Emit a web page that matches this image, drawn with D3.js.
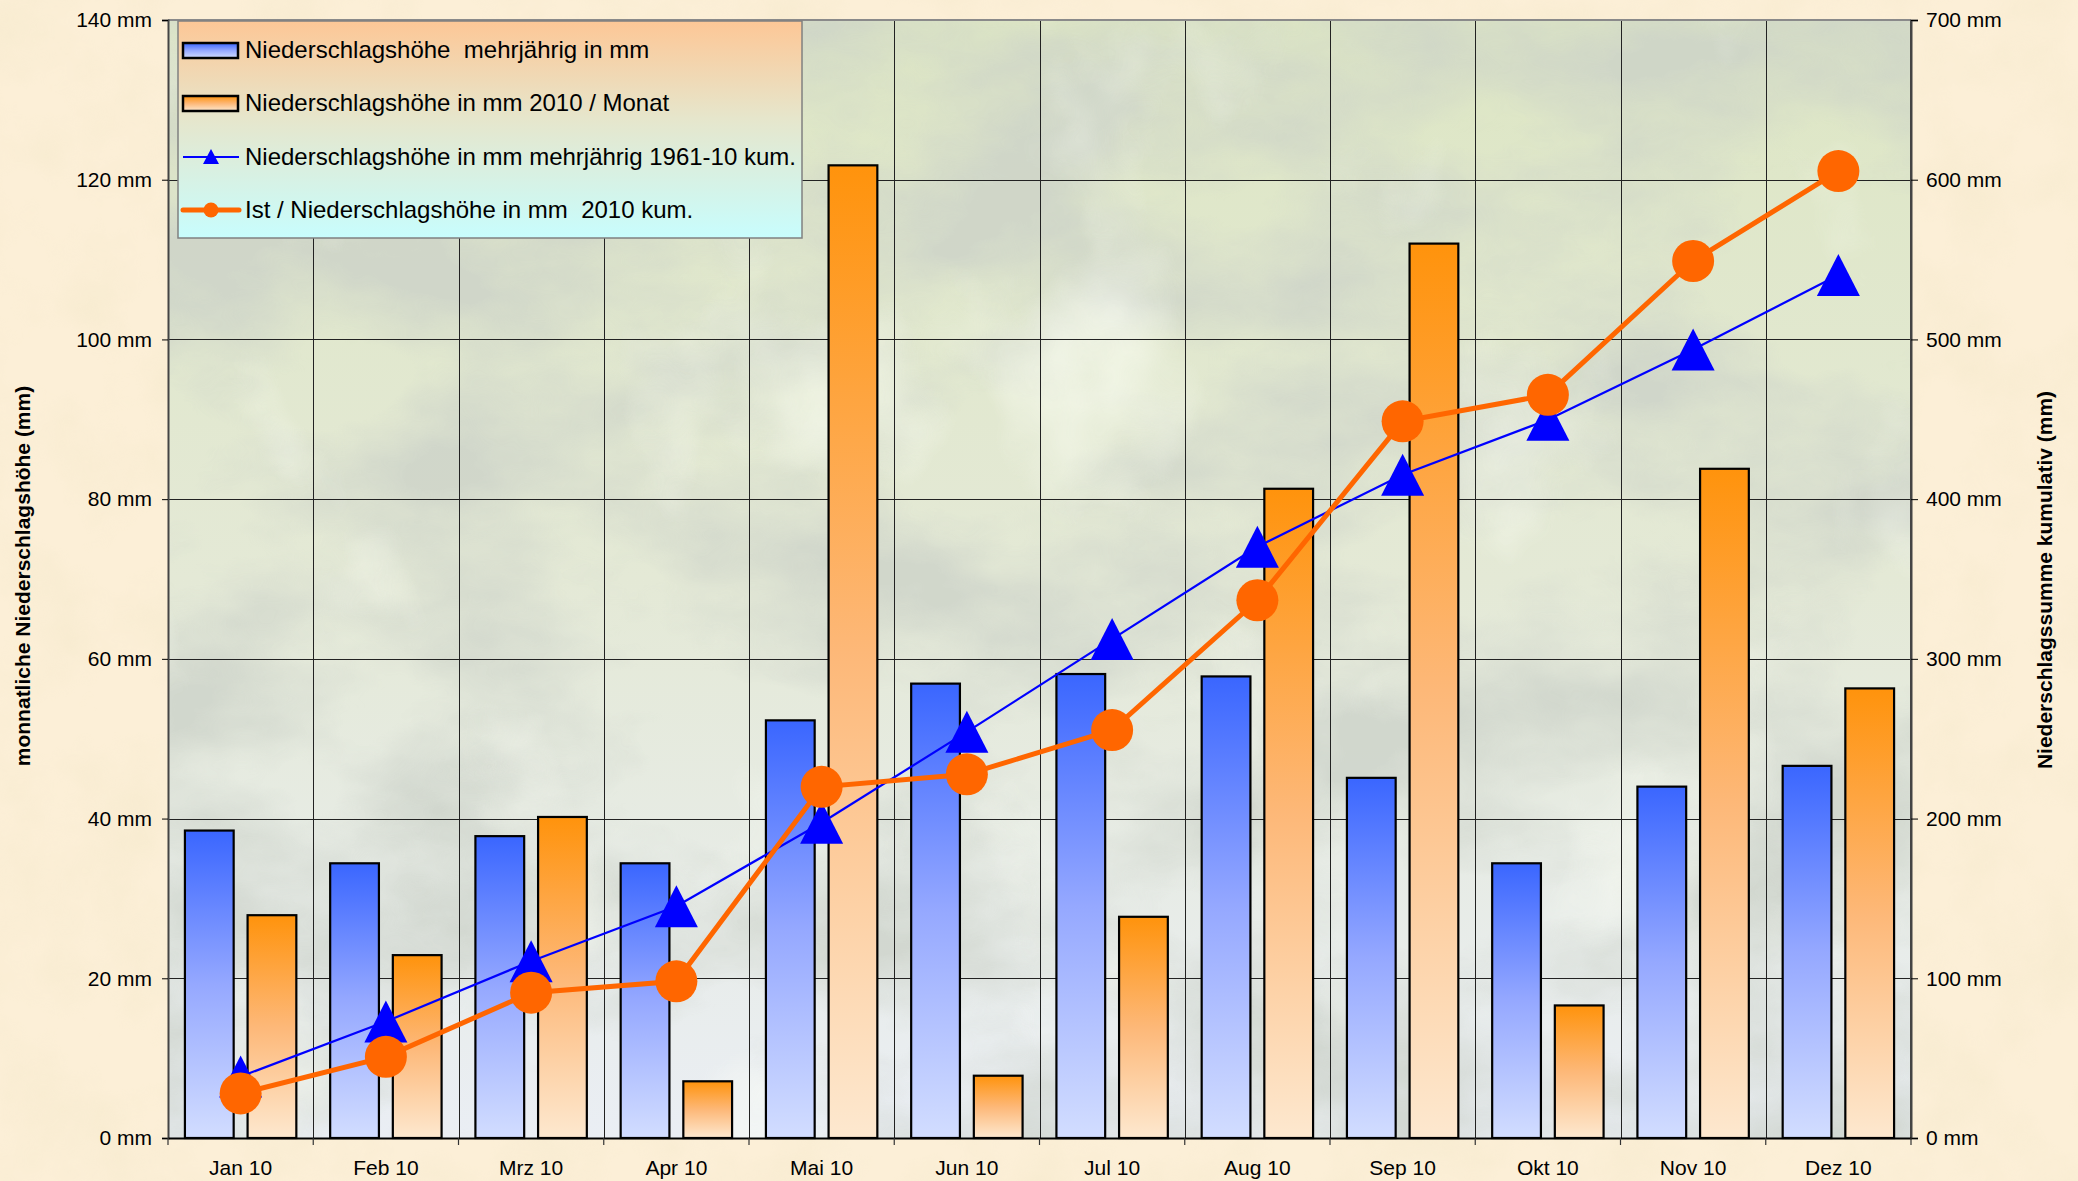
<!DOCTYPE html>
<html>
<head>
<meta charset="utf-8">
<script src="https://cdn.jsdelivr.net/npm/d3@7"></script>
<style>
  body { margin: 0; overflow: hidden; background: #fcefd7; }
  text { font-family: "Liberation Sans", Arial, sans-serif; fill: #000; }
</style>
</head>
<body>
<div id="chart"></div>
<script>
// monthly precipitation 2010 vs. long-term average, plus cumulative sums
var months = ["Jan 10", "Feb 10", "Mrz 10", "Apr 10", "Mai 10", "Jun 10",
              "Jul 10", "Aug 10", "Sep 10", "Okt 10", "Nov 10", "Dez 10"];

var normMonthly   = [38.5, 34.4, 37.8, 34.4, 52.3, 56.9, 58.1, 57.8, 45.1, 34.4, 44.0, 46.6];
var actualMonthly = [27.9, 22.9, 40.2, 7.1, 121.8, 7.8, 27.7, 81.3, 112.0, 16.6, 83.8, 56.3];

var normCum   = [38.5, 72.9, 110.7, 145.1, 197.4, 254.3, 312.4, 370.2, 415.3, 449.7, 493.7, 540.3];
var actualCum = [27.9, 50.8, 91.0, 98.1, 219.9, 227.7, 255.4, 336.7, 448.7, 465.3, 549.1, 605.4];

var leftTicks  = [0, 20, 40, 60, 80, 100, 120, 140];
var rightTicks = [0, 100, 200, 300, 400, 500, 600, 700];

var legendLabels = [
    "Niederschlagshöhe  mehrjährig in mm",
    "Niederschlagshöhe in mm 2010 / Monat",
    "Niederschlagshöhe in mm mehrjährig 1961-10 kum.",
    "Ist / Niederschlagshöhe in mm  2010 kum."
];

var W = 2078, H = 1181;
var plot = { left: 168, right: 1911, top: 20, bottom: 1138 };

var svg = d3.select("#chart").append("svg").
    attr("width", W).
    attr("height", H);

var defs = svg.append("defs");

function vGrad(id, stops) {
    var g = defs.append("linearGradient").
        attr("id", id).
        attr("x1", 0).attr("y1", 0).attr("x2", 0).attr("y2", 1);
    stops.forEach(function(s) {
        g.append("stop").attr("offset", s[0]).attr("stop-color", s[1]);
    });
}
vGrad("gBlue", [[0, "#3a66ff"], [0.5, "#95a8ff"], [1, "#d2ddff"]]);
vGrad("gOrange", [[0, "#ff930c"], [0.5, "#fdb878"], [1, "#fde8cf"]]);
vGrad("gLegend", [[0, "#fdc796"], [0.45, "#e6e6cc"], [1, "#c8fdfd"]]);
vGrad("gPlot", [[0, "#dde6c4"], [0.5, "#e4e9d6"], [1, "#eaeef4"]]);

// paper texture around the chart
var fPaper = defs.append("filter").attr("id", "paper").
    attr("x", 0).attr("y", 0).attr("width", 1).attr("height", 1);
fPaper.append("feTurbulence").
    attr("type", "fractalNoise").attr("baseFrequency", "0.012").
    attr("numOctaves", 4).attr("seed", 4).attr("result", "n");
fPaper.append("feColorMatrix").attr("in", "n").attr("type", "matrix").
    attr("values", "0 0 0 0 0.86  0 0 0 0 0.78  0 0 0 0 0.55  1.6 0 0 0 -0.62");

// marble texture inside the plot
var fMarble = defs.append("filter").attr("id", "marble").
    attr("x", 0).attr("y", 0).attr("width", 1).attr("height", 1);
fMarble.append("feTurbulence").
    attr("type", "fractalNoise").attr("baseFrequency", "0.0035 0.006").
    attr("numOctaves", 5).attr("seed", 11).attr("result", "n");
fMarble.append("feColorMatrix").attr("in", "n").attr("type", "matrix").
    attr("values", "0 0 0 0 0.60  0 0 0 0 0.64  0 0 0 0 0.58  2.8 0 0 0 -1.05");

var fLight = defs.append("filter").attr("id", "marbleLight").
    attr("x", 0).attr("y", 0).attr("width", 1).attr("height", 1);
fLight.append("feTurbulence").
    attr("type", "fractalNoise").attr("baseFrequency", "0.005 0.004").
    attr("numOctaves", 4).attr("seed", 29).attr("result", "n");
fLight.append("feColorMatrix").attr("in", "n").attr("type", "matrix").
    attr("values", "0 0 0 0 0.98  0 0 0 0 1  0 0 0 0 0.92  -2.6 0 0 0 1.05");

svg.append("rect").attr("width", W).attr("height", H).attr("fill", "#fcefd7");
svg.append("rect").attr("width", W).attr("height", H).
    attr("filter", "url(#paper)").attr("opacity", 0.4);

var pw = plot.right - plot.left, ph = plot.bottom - plot.top;
svg.append("rect").
    attr("x", plot.left).attr("y", plot.top).attr("width", pw).attr("height", ph).
    attr("fill", "url(#gPlot)");
svg.append("rect").
    attr("x", plot.left).attr("y", plot.top).attr("width", pw).attr("height", ph).
    attr("filter", "url(#marble)").attr("opacity", 0.75);
svg.append("rect").
    attr("x", plot.left).attr("y", plot.top).attr("width", pw).attr("height", ph).
    attr("filter", "url(#marbleLight)").attr("opacity", 0.7);

// scales
var x = d3.scaleBand().domain(months).range([plot.left, plot.right]).padding(0);
var xs = d3.scaleBand().domain(["norm", "actual"]).
    range([0, x.bandwidth()]).paddingInner(0.222).paddingOuter(0.27);
var yL = d3.scaleLinear().domain([0, 140]).range([plot.bottom, plot.top]);
var yR = d3.scaleLinear().domain([0, 700]).range([plot.bottom, plot.top]);

// grid
var grid = svg.append("g").attr("class", "grid");
grid.selectAll("line.h").data(leftTicks.slice(1, -1)).enter().append("line").
    attr("x1", plot.left).attr("x2", plot.right).
    attr("y1", function(d) { return Math.round(yL(d)) + 0.5; }).
    attr("y2", function(d) { return Math.round(yL(d)) + 0.5; }).
    attr("stroke", "#222").attr("stroke-width", 1);
grid.selectAll("line.v").data(months.slice(1)).enter().append("line").
    attr("x1", function(d) { return Math.round(x(d)) + 0.5; }).
    attr("x2", function(d) { return Math.round(x(d)) + 0.5; }).
    attr("y1", plot.top).attr("y2", plot.bottom).
    attr("stroke", "#222").attr("stroke-width", 1);
// plot frame
svg.append("line").attr("x1", plot.left).attr("x2", plot.right).
    attr("y1", plot.top).attr("y2", plot.top).
    attr("stroke", "#8a8a8a").attr("stroke-width", 2);
svg.append("line").attr("x1", plot.right).attr("x2", plot.right).
    attr("y1", plot.top).attr("y2", plot.bottom).
    attr("stroke", "#444").attr("stroke-width", 2);

// bars
var barData = months.map(function(m, i) {
    return [{ m: m, key: "norm", v: normMonthly[i] },
            { m: m, key: "actual", v: actualMonthly[i] }];
});
var groups = svg.append("g").selectAll("g").data(barData).enter().append("g").
    attr("transform", function(d) { return "translate(" + x(d[0].m) + ",0)"; });
groups.selectAll("rect").data(function(d) { return d; }).enter().append("rect").
    attr("x", function(d) { return xs(d.key); }).
    attr("y", function(d) { return yL(d.v); }).
    attr("width", xs.bandwidth()).
    attr("height", function(d) { return yL(0) - yL(d.v); }).
    attr("fill", function(d) { return d.key == "norm" ? "url(#gBlue)" : "url(#gOrange)"; }).
    attr("stroke", "#000").attr("stroke-width", 2.2);

// axes
var leftAxis = d3.axisLeft(yL).tickValues(leftTicks).tickSize(6).tickPadding(10).
    tickFormat(function(d) { return d + " mm"; });
var gl = svg.append("g").attr("transform", "translate(" + plot.left + ",0)").call(leftAxis);
gl.select(".domain").attr("stroke", "#444").attr("stroke-width", 2);

var rightAxis = d3.axisRight(yR).tickValues(rightTicks).tickSize(7).tickPadding(8).
    tickFormat(function(d) { return d + " mm"; });
var gr = svg.append("g").attr("transform", "translate(" + plot.right + ",0)").call(rightAxis);
gr.select(".domain").attr("stroke", "#444").attr("stroke-width", 2);

var bottomAxis = d3.axisBottom(x).tickSize(0).tickPadding(22);
var gb = svg.append("g").attr("transform", "translate(0," + plot.bottom + ")").call(bottomAxis);
gb.select(".domain").attr("stroke", "#000").attr("stroke-width", 2);
// category separators below the axis
gb.selectAll("line.sep").data(months.concat(["_end"])).enter().append("line").
    attr("class", "sep").
    attr("x1", function(d, i) { return i < months.length ? x(d) : plot.right; }).
    attr("x2", function(d, i) { return i < months.length ? x(d) : plot.right; }).
    attr("y1", 0).attr("y2", 7).attr("stroke", "#333").attr("stroke-width", 1.2);

[gl, gr, gb].forEach(function(g) {
    g.selectAll(".tick line").attr("stroke", "#000");
    g.selectAll("text").attr("font-size", 21).attr("fill", "#000").
        attr("font-family", "Liberation Sans, Arial, sans-serif");
});

// cumulative lines
var cx = function(i) { return x(months[i]) + x.bandwidth() / 2; };
var cumLine = d3.line().x(function(d, i) { return cx(i); }).y(function(d) { return yR(d); });
svg.append("path").datum(normCum).attr("d", cumLine).
    attr("fill", "none").attr("stroke", "#0000ff").attr("stroke-width", 2.2);
svg.append("g").selectAll("path").data(normCum).enter().append("path").
    attr("d", "M0,-21L21.5,21L-21.5,21Z").
    attr("transform", function(d, i) { return "translate(" + cx(i) + "," + yR(d) + ")"; }).
    attr("fill", "#0000ff");

svg.append("path").datum(actualCum).attr("d", cumLine).
    attr("fill", "none").attr("stroke", "#ff6600").attr("stroke-width", 5);
svg.append("g").selectAll("circle").data(actualCum).enter().append("circle").
    attr("cx", function(d, i) { return cx(i); }).
    attr("cy", function(d) { return yR(d); }).
    attr("r", 21).
    attr("fill", "#ff6600");

// axis titles
svg.append("text").
    attr("transform", "translate(30,576) rotate(-90)").
    attr("text-anchor", "middle").attr("font-size", 21).attr("font-weight", "bold").
    text("monnatliche Niederschlagshöhe (mm)");
svg.append("text").
    attr("transform", "translate(2052,580) rotate(-90)").
    attr("text-anchor", "middle").attr("font-size", 21).attr("font-weight", "bold").
    text("Niederschlagssumme kumulativ (mm)");

// legend
var lg = svg.append("g").attr("transform", "translate(178,21)");
lg.append("rect").attr("width", 624).attr("height", 217).
    attr("fill", "url(#gLegend)").attr("stroke", "#808080").attr("stroke-width", 1.5);
var rowY = [29, 82, 136, 189];
var rows = lg.selectAll("g.row").data(legendLabels).enter().append("g").
    attr("transform", function(d, i) { return "translate(5," + rowY[i] + ")"; });
rows.append("text").attr("x", 62).attr("y", 0).attr("dy", "0.35em").
    attr("font-size", 24).style("white-space", "pre").
    text(function(d) { return d; });
rows.filter(function(d, i) { return i < 2; }).append("rect").
    attr("x", 0).attr("y", -7).attr("width", 55).attr("height", 15).
    attr("fill", function(d, i) { return i == 0 ? "url(#gBlue)" : "url(#gOrange)"; }).
    attr("stroke", "#000").attr("stroke-width", 2.5);
var r3 = rows.filter(function(d, i) { return i == 2; });
r3.append("line").attr("x1", 0).attr("x2", 56).attr("stroke", "#0000ff").attr("stroke-width", 2.2);
r3.append("path").attr("d", "M28,-8L36,7L20,7Z").attr("fill", "#0000ff");
var r4 = rows.filter(function(d, i) { return i == 3; });
r4.append("line").attr("x1", 0).attr("x2", 56).attr("stroke", "#ff6600").attr("stroke-width", 5).
    attr("stroke-linecap", "round");
r4.append("circle").attr("cx", 28).attr("r", 7.5).attr("fill", "#ff6600");
</script>
</body>
</html>
